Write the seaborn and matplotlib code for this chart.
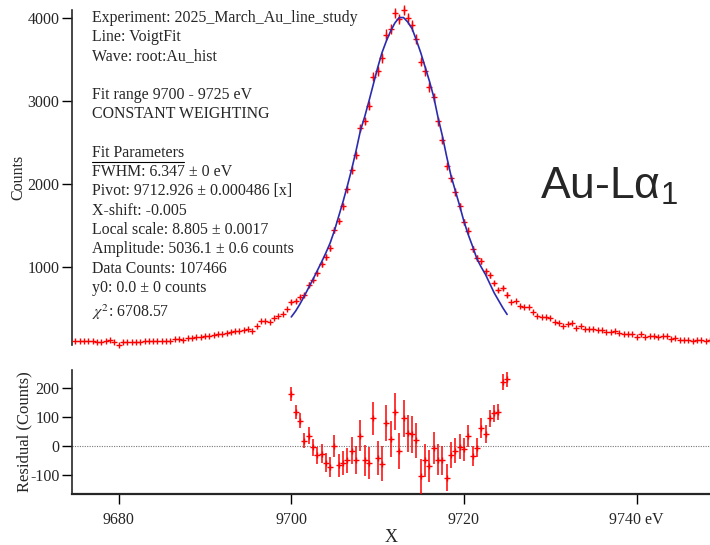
import numpy as np
import pandas as pd
import matplotlib.pyplot as plt
from matplotlib.lines import Line2D
import seaborn as sns

# ---- data ----
# histogram bins: 0.5 eV wide, first bin at 9675 eV
bin_start = 9675.0
bin_step = 0.5
counts = [
    116, 116, 116, 116, 112, 104, 104, 116, 124, 104,
    68, 104, 104, 104, 104, 104, 112, 112, 116, 116,
    116, 116, 116, 136, 136, 124, 152, 144, 156, 156,
    168, 176, 184, 196, 200, 208, 224, 232, 236, 248,
    256, 228, 296, 356, 348, 344, 384, 410, 440, 500,
    # fit range 9700 - 9725
    577, 590, 645, 668, 790, 850, 925, 1035, 1120, 1230,
    1450, 1555, 1735, 1935, 2165, 2350, 2675, 2760, 2945, 3294,
    3358, 3519, 3800, 3870, 4060, 3985, 4095, 3995, 3910, 3750,
    3475, 3360, 3170, 3045, 2755, 2530, 2220, 2070, 1905, 1735,
    1540, 1440, 1220, 1110, 1075, 950, 900, 810, 725, 750,
    670,
    # right tail
    576, 588, 528, 516, 516, 464, 416, 396, 396, 384,
    344, 328, 296, 316, 324, 264, 288, 256, 256, 256,
    248, 248, 224, 216, 232, 208, 196, 196, 196, 156,
    192, 156, 168, 168, 156, 176, 176, 136, 152, 128,
    128, 120, 116, 124, 128, 116, 124,
]

# Voigt fit, residuals and their errors on 9700 .. 9725 eV
fit_start = 9700.0
fit_counts = [
    400, 470, 555, 650, 750, 850, 955, 1060, 1170, 1290,
    1440, 1615, 1790, 1980, 2180, 2400, 2640, 2810, 3000, 3200,
    3400, 3580, 3720, 3840, 3940, 4005, 4005, 3950, 3870, 3730,
    3580, 3410, 3240, 3050, 2800, 2580, 2330, 2100, 1920, 1740,
    1550, 1390, 1250, 1100, 1000, 910, 800, 690, 600, 510,
    430,
]
residuals = [
    177, 115, 86, 18, 35, -5, -33, -27, -58, -73,
    0, -67, -58, -50, -16, -50, 35, -50, -58, 94,
    -42, -61, 78, 24, 117, -18, 94, 43, 39, 19,
    -105, -50, -69, -7, -47, -50, -109, -31, -16, -3,
    -12, 34, -34, -6, 61, 40, 94, 111, 115, 220,
    228,
]
residual_err = [
    24, 24, 25, 26, 28, 29, 30, 32, 33, 35,
    38, 39, 42, 44, 47, 48, 52, 53, 54, 57,
    58, 59, 62, 62, 64, 63, 64, 63, 63, 61,
    59, 58, 56, 55, 52, 50, 47, 45, 44, 42,
    39, 38, 35, 33, 33, 31, 30, 28, 27, 27,
    26,
]

info_lines = [
    "Experiment: 2025_March_Au_line_study",
    "Line: VoigtFit",
    "Wave: root:Au_hist",
    "",
    "Fit range 9700 - 9725 eV",
    "CONSTANT WEIGHTING",
    "",
    "Fit Parameters",
    "FWHM: 6.347 \u00b1 0 eV",
    "Pivot: 9712.926 \u00b1 0.000486 [x]",
    "X-shift: -0.005",
    "Local scale: 8.805 \u00b1 0.0017",
    "Amplitude: 5036.1 \u00b1 0.6 counts",
    "Data Counts: 107466",
    "y0: 0.0 \u00b1 0 counts",
    r"$\chi^2$: 6708.57",
]

x_ticks = [9680, 9700, 9720, 9740]
x_tick_labels = ["9680", "9700", "9720", "9740 eV"]

# ---- frames ----
energy = bin_start + bin_step * np.arange(len(counts))
df = pd.DataFrame({"energy": energy, "counts": counts})
fit_df = pd.DataFrame({
    "energy": fit_start + bin_step * np.arange(len(fit_counts)),
    "fit": fit_counts,
    "resid": residuals,
    "err": residual_err,
})
fit_df["data"] = df.set_index("energy").loc[fit_df["energy"], "counts"].values

sns.set_style("ticks")
plt.rcParams["font.family"] = ["Liberation Serif", "DejaVu Serif"]
plt.rcParams["mathtext.fontset"] = "stix"
plt.rcParams["axes.unicode_minus"] = False

W, H = 710, 545
fig = plt.figure(figsize=(W / 100, H / 100), dpi=100)
ax1 = fig.add_axes([72 / W, 1 - 345 / H, 638 / W, 335 / H])
ax2 = fig.add_axes([72 / W, 1 - 494 / H, 638 / W, 124 / H], sharex=ax1)

red = "#ff0000"
blue = "#2b2bb0"

# ==================== top: spectrum + fit ====================
ax1.errorbar(fit_df["energy"], fit_df["data"], yerr=fit_df["err"], fmt="none",
             ecolor=red, elinewidth=1.0, clip_on=False, zorder=3)
sns.scatterplot(data=df, x="energy", y="counts", marker="+", color=red,
                s=16, linewidth=1.0, ax=ax1, zorder=3, clip_on=False)
sns.lineplot(data=fit_df, x="energy", y="fit", color=blue, lw=1.2, ax=ax1, zorder=4)

ax1.set_xlim(9674.6, 9748.5)
ax1.set_ylim(62, 4096)
ax1.set_yticks([1000, 2000, 3000, 4000])
for s in ["top", "right", "bottom"]:
    ax1.spines[s].set_visible(False)
ax1.tick_params(axis="x", bottom=False, labelbottom=False)
ax1.set_xlabel("")
ax1.set_ylabel("Counts", fontsize=11.5)
ax1.yaxis.set_label_coords(-0.072, 0.5)

# ==================== bottom: residuals ====================
ax2.axhline(0, color="#777777", ls=(0, (1, 1.2)), lw=0.8, zorder=1)
ax2.errorbar(fit_df["energy"], fit_df["resid"], yerr=fit_df["err"], fmt="none",
             ecolor=red, elinewidth=1.1, zorder=3)
sns.scatterplot(data=fit_df, x="energy", y="resid", marker="+", color=red,
                s=16, linewidth=1.0, ax=ax2, zorder=3)

ax2.set_ylim(-165, 260)
ax2.set_yticks([-100, 0, 100, 200])
ax2.set_xticks(x_ticks)
ax2.set_xticklabels(x_tick_labels)
for s in ["top", "right"]:
    ax2.spines[s].set_visible(False)
ax2.spines["bottom"].set_linewidth(1.6)
ax2.set_ylabel("Residual (Counts)", fontsize=12)
ax2.yaxis.set_label_coords(-0.062, 0.5)
ax2.set_xlabel("X", fontsize=13)
ax2.xaxis.set_label_coords(0.5, -0.28)

for ax in (ax1, ax2):
    ax.spines["left"].set_linewidth(1.2)
    ax.tick_params(direction="out", length=7, width=1.0, labelsize=11.5,
                   color="black", pad=2)
ax2.tick_params(axis="x", pad=6)

# ==================== annotation text ====================
for i, line in enumerate(info_lines):
    if not line:
        continue
    y_px = 21.7 + 19.3 * i + (6 if line.startswith("$") else 0)
    t = fig.text(92 / W, 1 - y_px / H, line, fontsize=11.4, va="baseline", ha="left")
    if line == "Fit Parameters":
        fig.canvas.draw()
        bb = t.get_window_extent()
        uy = (bb.y0 - 1.5) / H
        fig.add_artist(Line2D([bb.x0 / W, bb.x1 / W], [uy, uy], color="black", lw=0.8))

fig.text(540 / W, 1 - 198 / H, "Au-L\u03b1$_\\mathregular{1}$", fontsize=32,
         family=["Liberation Sans", "DejaVu Sans"],
         va="baseline", ha="left")

plt.savefig("out.png", dpi=100)
plt.close()
